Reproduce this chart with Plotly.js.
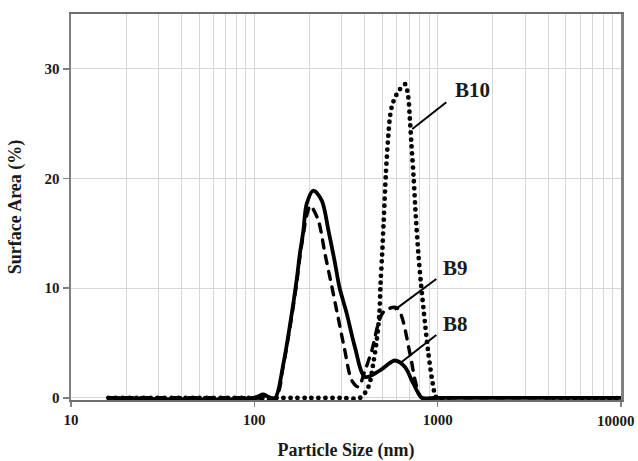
<!DOCTYPE html>
<html>
<head>
<meta charset="utf-8">
<script src="https://cdn.plot.ly/plotly-3.0.1.min.js"></script>
<style>
  html, body { margin: 0; padding: 0; background: #fff; }
  #chart { width: 638px; height: 461px; }
  .js-line { stroke-linecap: round; stroke-linejoin: round; }
</style>
</head>
<body>
<div id="chart"></div>
<script>
// ---- data ----
var b8Size = [16, 100, 112, 122, 130, 144, 157, 170, 177, 185, 193, 210, 233, 254, 276, 291, 319, 354, 402, 485, 586, 663, 722, 785, 819, 1000, 10000];
var b8Area = [0, 0, 0.3, 0, 0, 3.1, 6.8, 10.7, 13.1, 15.2, 17.7, 18.9, 18.0, 15.2, 12.2, 10.1, 7.7, 4.6, 1.9, 2.5, 3.4, 2.8, 1.6, 0.4, 0, 0, 0];

var b9Size = [16, 100, 130, 144, 157, 170, 177, 185, 193, 202, 223, 243, 262, 285, 310, 340, 369, 400, 437, 505, 599, 707, 753, 819, 1000, 10000];
var b9Area = [0, 0, 0, 3.0, 6.6, 10.4, 12.8, 14.9, 16.6, 17.5, 16.2, 13.1, 10.5, 7.5, 4.5, 1.6, 1.0, 2.4, 4.3, 7.8, 8.2, 4.0, 1.6, 0, 0, 0];

var b10Size = [16, 100, 200, 300, 377, 419, 446, 465, 481, 488, 498, 508, 522, 538, 550, 565, 590, 620, 665, 690, 705, 720, 740, 760, 785, 811, 853, 889, 948, 990, 10000];
var b10Area = [0, 0, 0, 0, 0, 1.0, 3.2, 5.2, 7.7, 10.4, 13.1, 16.2, 20.5, 23.9, 25.7, 26.7, 27.5, 28.1, 28.6, 27.5, 25.5, 23.0, 20.0, 16.5, 13.1, 10.4, 6.8, 4.1, 1.0, 0, 0];

var seriesNames = ['B8', 'B9', 'B10'];
var xTickVals = [10, 100, 1000, 10000];
var xTickText = ['10', '100', '1000', ''];   // last label drawn as an annotation so it stays inside the page
var lastTickLabel = '10000';
var yTickVals = [0, 10, 20, 30];

// ---- styling ----
var serif = 'Liberation Serif, Times New Roman, serif';
var ink = '#1a1a1a';

var traces = [
  { x: b10Size, y: b10Area, name: seriesNames[2], mode: 'lines',
    line: { color: '#000', width: 4.8, dash: '0px,7px', shape: 'spline', smoothing: 0.9 } },
  { x: b9Size, y: b9Area, name: seriesNames[1], mode: 'lines',
    line: { color: '#000', width: 3.4, dash: '8px,8px', shape: 'spline', smoothing: 0.9 } },
  { x: b8Size, y: b8Area, name: seriesNames[0], mode: 'lines',
    line: { color: '#000', width: 3.8, shape: 'spline', smoothing: 0.9 } }
];

var labelFont = { family: serif, size: 21, color: ink, weight: 'bold' };
var tickFont = { family: serif, size: 15, color: ink, weight: 'bold' };

var layout = {
  width: 638, height: 461,
  margin: { l: 71, r: 17, t: 14, b: 61 },
  paper_bgcolor: '#fff', plot_bgcolor: '#fff',
  showlegend: false,
  xaxis: {
    type: 'log', range: [1, 4],
    tickvals: xTickVals, ticktext: xTickText,
    ticks: 'outside', ticklen: 5, tickwidth: 1.5, tickcolor: '#808080',
    showgrid: true, gridcolor: '#d6d6d6', gridwidth: 1,
    minor: { dtick: 'D1', showgrid: true, gridcolor: '#d6d6d6', gridwidth: 1, ticks: '' },
    showline: true, linecolor: '#6e6e6e', linewidth: 2, mirror: true,
    zeroline: false,
    tickfont: tickFont,
    title: { text: 'Particle Size (nm)', font: { family: serif, size: 18, color: ink, weight: 'bold' }, standoff: 17 }
  },
  yaxis: {
    range: [-0.2, 35],
    tickvals: yTickVals,
    ticks: 'outside', ticklen: 6, tickwidth: 1.5, tickcolor: '#808080',
    showgrid: true, gridcolor: '#d6d6d6', gridwidth: 1,
    showline: true, linecolor: '#808080', linewidth: 2.5, mirror: true,
    zeroline: false,
    tickfont: tickFont,
    title: { text: 'Surface Area (%)', font: { family: serif, size: 18, color: ink, weight: 'bold' }, standoff: 18 }
  },
  annotations: [
    { text: lastTickLabel, xref: 'paper', yref: 'paper', x: 1, y: 0, xanchor: 'right', yanchor: 'top',
      xshift: 16, yshift: -11, showarrow: false, font: tickFont },
    { text: 'B10', xref: 'paper', yref: 'paper', x: 0.6945, y: 0.802, xanchor: 'left', yanchor: 'middle', showarrow: false, font: labelFont },
    { text: 'B9', xref: 'paper', yref: 'paper', x: 0.6727, y: 0.3424, xanchor: 'left', yanchor: 'middle', showarrow: false, font: labelFont },
    { text: 'B8', xref: 'paper', yref: 'paper', x: 0.6727, y: 0.1966, xanchor: 'left', yanchor: 'middle', showarrow: false, font: labelFont }
  ],
  shapes: [
    { type: 'line', xref: 'paper', yref: 'paper', x0: 0.6824, y0: 0.7716, x1: 0.6205, y1: 0.7023, line: { color: '#000', width: 2 } },
    { type: 'line', xref: 'paper', yref: 'paper', x0: 0.6642, y0: 0.3133, x1: 0.5885, y1: 0.2336, line: { color: '#000', width: 2 } },
    { type: 'line', xref: 'paper', yref: 'paper', x0: 0.6642, y0: 0.1685, x1: 0.5976, y1: 0.0945, line: { color: '#000', width: 2 } }
  ]
};

Plotly.newPlot('chart', traces, layout, { displayModeBar: false, staticPlot: true });
</script>
</body>
</html>
